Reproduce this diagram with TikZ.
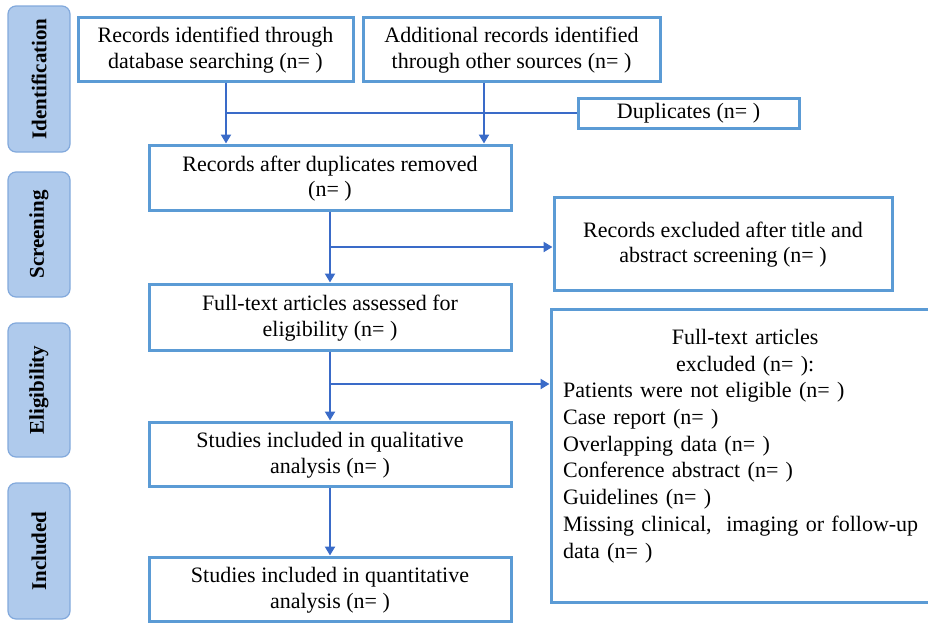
\documentclass[tikz,border=0pt]{standalone}
\usepackage{fontspec}
\setmainfont{Liberation Serif}
\usetikzlibrary{arrows.meta}
\definecolor{boxc}{HTML}{5B9BD5}
\definecolor{arrc}{HTML}{3A6BC8}
\definecolor{sidefill}{HTML}{AFCAEC}
\definecolor{sidedraw}{HTML}{82A9DC}
\tikzset{
  box/.style={draw=boxc, line width=3pt, fill=white, align=center, inner sep=0pt,
    font=\fontsize{22}{25.5}\selectfont},
  side/.style={draw=sidedraw, line width=1.2pt, fill=sidefill, rounded corners=8pt, rotate=90,
    inner sep=0pt, minimum height=62pt, font=\fontsize{21}{24}\selectfont\bfseries},
  ln/.style={draw=arrc, line width=2.8pt},
  arr/.style={ln, -{Triangle[width=10pt,length=9pt]}}
}
\begin{document}
\begin{tikzpicture}[x=1pt,y=-1pt]
\useasboundingbox (0,0) rectangle (928,624);
% side labels
\node[side, minimum width=146pt] (s1) at (39,79) {Identification};
\node[side, minimum width=125pt] (s2) at (39,234.5) {Screening};
\node[side, minimum width=134pt] (s3) at (39,390) {Eligibility};
\node[side, minimum width=136pt] (s4) at (39,551) {Included};
% boxes
\node[box, minimum width=275pt, minimum height=64pt] (b1) at (215.5,49) {\strut Records identified through\\database searching (n= )};
\node[box, minimum width=297pt, minimum height=64pt] (b2) at (511.5,49) {\strut Additional records identified\\through other sources (n= )};
\node[box, minimum width=221pt, minimum height=30pt] (dup) at (688.5,113) {Duplicates (n= )};
\node[box, minimum width=362pt, minimum height=65pt] (b3) at (330,177.5) {\strut Records after duplicates removed\\(n= )};
\node[box, minimum width=338pt, minimum height=93pt] (excl) at (723,243.5) {\strut Records excluded after title and\\abstract screening (n= )};
\node[box, minimum width=362pt, minimum height=66pt] (b4) at (330,317) {\strut Full-text articles assessed for\\eligibility (n= )};
\node[box, minimum width=389pt, minimum height=293pt] (big) at (745.5,455.5) {};
\node[anchor=north west, text width=364pt, inner sep=0pt, font=\fontsize{22}{26.7}\selectfont] (bigtxt) at (563,329)
 {\parindent=0pt{\centering Full-text articles\par excluded (n= ):\par}\raggedright
  Patients were not eligible (n= )\par
  Case report (n= )\par
  Overlapping data (n= )\par
  Conference abstract (n= )\par
  Guidelines (n= )\par
  Missing clinical,\ \ imaging or follow-up\par
  data (n= )\par};
\node[box, minimum width=362pt, minimum height=64pt] (b5) at (330,454) {\strut Studies included in qualitative\\analysis (n= )};
\node[box, minimum width=362pt, minimum height=64pt] (b6) at (330,589) {\strut Studies included in quantitative\\analysis (n= )};
% connectors
\coordinate (j1) at (226,113);
\coordinate (j2) at (484,113);
\coordinate (j3) at (330,247);
\coordinate (j4) at (330,384);
\draw[arr] (b1.south -| j1) -- (b3.north -| j1);
\draw[arr] (b2.south -| j2) -- (b3.north -| j2);
\draw[ln] (j1) -- (dup.west);
\draw[arr] (b3.south) -- (b4.north);
\draw[arr] (j3) -- (excl.west |- j3);
\draw[arr] (b4.south) -- (b5.north);
\draw[arr] (j4) -- (big.west |- j4);
\draw[arr] (b5.south) -- (b6.north);
\end{tikzpicture}
\end{document}
